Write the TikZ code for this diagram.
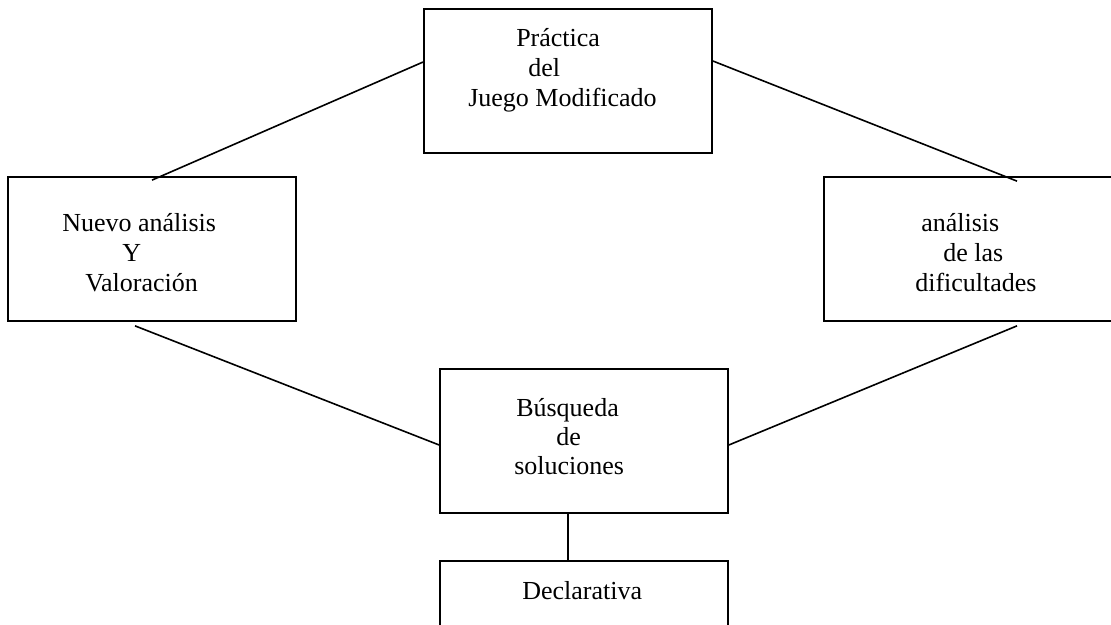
\documentclass[tikz,border=0pt]{standalone}
\usepackage{fontspec}
\setmainfont{Liberation Serif}
\usetikzlibrary{calc}

\tikzset{
  box/.style={draw, line width=1.3pt, minimum width=216pt, minimum height=108pt, inner sep=0pt},
  txt/.style={anchor=base west, inner sep=0pt, font=\fontsize{19.5}{22.5}\selectfont},
  link/.style={line width=1.2pt}
}

\begin{document}
\begin{tikzpicture}[x=0.75pt, y=0.75pt]
  \clip (0,0) rectangle (1111,625);
  % boxes
  \node[box] (practica) at (568,544) {};
  \node[box] (nuevo) at (152,376) {};
  \node[box, minimum width=217.5pt] (analisis) at (969,376) {};
  \node[box] (busqueda) at (584,184) {};
  \node[box] (declarativa) at (584,-8) {};
  % texts
  \node[txt] (p1) at (516,578) {Práctica};
  \node[txt] (p2) at (528,548) {del};
  \node[txt] (p3) at (468,518) {Juego Modificado};
  \node[txt] (n1) at (62,393) {Nuevo análisis};
  \node[txt] (n2) at (122,363) {Y};
  \node[txt] (n3) at (85,333) {Valoración};
  \node[txt] (a1) at (921,393) {análisis};
  \node[txt] (a2) at (943,363) {de las};
  \node[txt] (a3) at (915,333) {dificultades};
  \node[txt] (b1) at (516,208) {Búsqueda};
  \node[txt] (b2) at (556,179) {de};
  \node[txt] (b3) at (514,150) {soluciones};
  \node[txt] (d1) at (522,25) {Declarativa};
  % connectors
  \draw[link] ($(practica.west)+(0,19)$) -- ($(nuevo.north)+(0,-4)$);
  \draw[link] ($(practica.east)+(0,20)$) -- ($(analisis.north)+(48,-5)$);
  \draw[link] ($(nuevo.south)+(-17,-4)$) -- ($(busqueda.west)+(0,-4)$);
  \draw[link] ($(analisis.south)+(48,-4)$) -- ($(busqueda.east)+(0,-4)$);
  \draw[link] ($(busqueda.south)+(-16,0)$) -- ($(declarativa.north)+(-16,0)$);
\end{tikzpicture}
\end{document}
